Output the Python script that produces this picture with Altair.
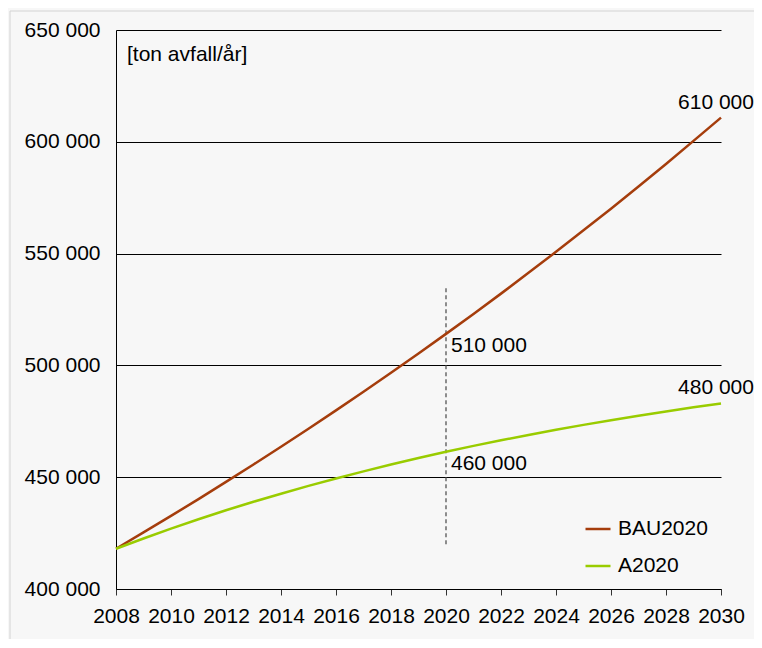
import altair as alt
import pandas as pd

years = list(range(2008, 2031))
bau2020 = [418000, 425300, 432700, 440200, 447900, 455700, 463600, 471700, 479900, 488200,
           496700, 505300, 514100, 523000, 532100, 541400, 550800, 560400, 570100, 580000,
           590100, 600400, 610800]
a2020 = [418000, 422600, 427000, 431200, 435200, 439000, 442600, 446100, 449400, 452600,
         455700, 458600, 461400, 464000, 466500, 468900, 471200, 473400, 475500, 477500,
         479400, 481300, 483000]
series_names = ["BAU2020", "A2020"]
series_colors = ["#a53d0c", "#99cc00"]

x_ticks = list(range(2008, 2031, 2))
y_ticks = [400000, 450000, 500000, 550000, 600000, 650000]

mid_year = 2020
mid_labels = ["510 000", "460 000"]
end_year = 2030
end_labels = ["610 000", "480 000"]
marker_range = [420000, 535000]
unit_label = "[ton avfall/år]"

FONT = "Liberation Sans"
FS = 21
W, H = 605, 559

df = pd.DataFrame({
    "year": years * 2,
    "value": bau2020 + a2020,
    "series": [series_names[0]] * len(years) + [series_names[1]] * len(years),
})

mid_df = pd.DataFrame({
    "year": [mid_year, mid_year],
    "value": [bau2020[years.index(mid_year)], a2020[years.index(mid_year)]],
    "label": mid_labels,
})
end_df = pd.DataFrame({
    "year": [end_year, end_year],
    "value": [bau2020[years.index(end_year)], a2020[years.index(end_year)]],
    "label": end_labels,
})
rule_df = pd.DataFrame({"year": [mid_year], "y0": [marker_range[0]], "y1": [marker_range[1]]})

xscale = alt.Scale(domain=[2008, 2030], nice=False, zero=False)
yscale = alt.Scale(domain=[400000, 650000], nice=False, zero=False)

one = pd.DataFrame({"a": [0]})
border_top = alt.Chart(one).mark_rule(color="#d3d3d3", strokeWidth=1).encode(
    x=alt.value(-106), x2=alt.value(W + 40), y=alt.value(-19)
)
border_left = alt.Chart(one).mark_rule(color="#d3d3d3", strokeWidth=1).encode(
    x=alt.value(-106), y=alt.value(-19), y2=alt.value(H + 60)
)

lines = alt.Chart(df).mark_line(strokeWidth=2.5).encode(
    x=alt.X("year:Q", scale=xscale,
            axis=alt.Axis(values=x_ticks, format="d", title=None, grid=False,
                          tickSize=6, labelPadding=10, labelOverlap=False,
                          labelFlush=False, labelBound=False)),
    y=alt.Y("value:Q", scale=yscale,
            axis=alt.Axis(values=y_ticks, title=None, grid=True, ticks=False,
                          labelPadding=16, labelOverlap=False, labelFlush=False,
                          labelExpr="replace(format(datum.value, ','), ',', ' ')")),
    color=alt.Color("series:N",
                    scale=alt.Scale(domain=series_names, range=series_colors),
                    legend=alt.Legend(title=None, orient="none", legendX=468, legendY=485,
                                      symbolType="stroke", symbolSize=625,
                                      symbolStrokeWidth=2.5, labelFontSize=FS,
                                      labelFont=FONT, labelColor="black",
                                      labelOffset=6, rowPadding=13)),
    detail="series:N",
)

rule = alt.Chart(rule_df).mark_rule(color="#555555", strokeDash=[4, 3], strokeWidth=1.3).encode(
    x="year:Q", y="y0:Q", y2="y1:Q"
)

mid_text = alt.Chart(mid_df).mark_text(
    align="left", baseline="top", dx=5, dy=1, fontSize=FS, font=FONT, color="black"
).encode(x="year:Q", y="value:Q", text="label:N")

end_text = alt.Chart(end_df).mark_text(
    align="center", baseline="bottom", dx=-5, dy=-5, fontSize=FS, font=FONT, color="black"
).encode(x="year:Q", y="value:Q", text="label:N")

unit = alt.Chart(pd.DataFrame({"t": [unit_label]})).mark_text(
    align="left", baseline="middle", fontSize=FS, font=FONT, color="black"
).encode(x=alt.value(11), y=alt.value(25), text="t:N")

chart = alt.layer(border_top, border_left, rule, lines, mid_text, end_text, unit).properties(
    width=W, height=H,
    autosize=alt.AutoSizeParams(type="none"),
    padding={"left": 108, "top": 22, "right": 33, "bottom": 50},
    background="#f7f7f7",
).configure_view(stroke=None, fill=None).configure_axis(
    labelFont=FONT, labelFontSize=FS, labelColor="black",
    domainColor="black", domainWidth=1, tickColor="#333333",
    gridColor="black", gridOpacity=1, gridWidth=1,
)

chart.save("out.html", embed_options={"renderer": "svg", "actions": False})
